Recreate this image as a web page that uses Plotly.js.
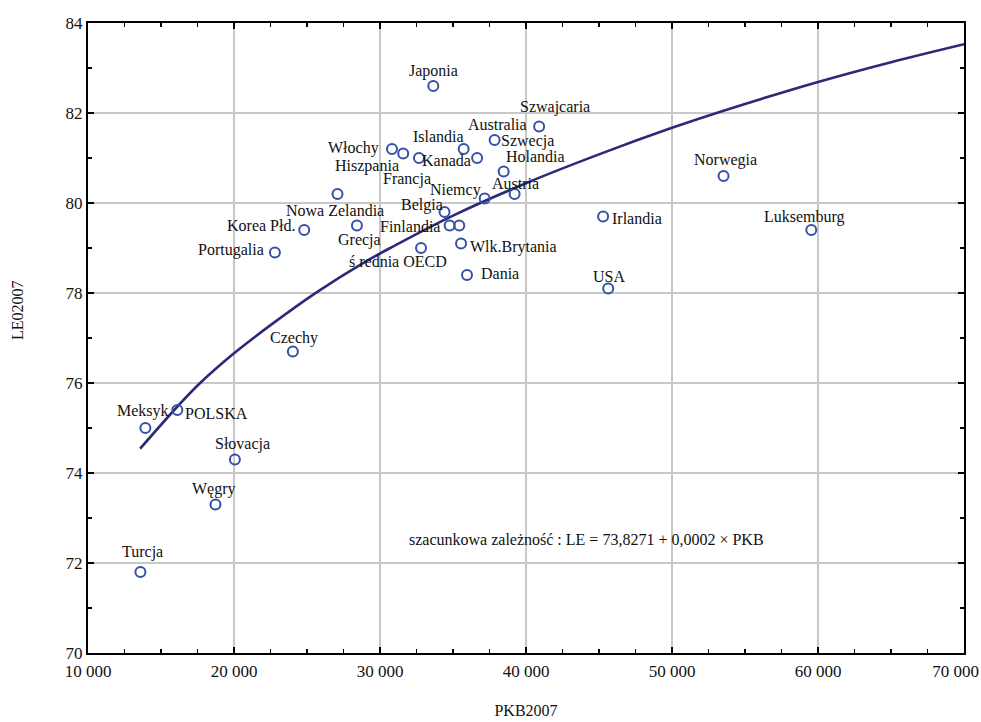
<!DOCTYPE html>
<html>
<head>
<meta charset="utf-8">
<script src="https://cdn.plot.ly/plotly-3.0.1.min.js"></script>
<style>html,body{margin:0;padding:0;background:#fff;}#chart{width:981px;height:722px;}</style>
</head>
<body>
<div id="chart"></div>
<script>
// ---- data ----
const countries = ["Japonia","Szwajcaria","Australia","Islandia","Szwecja","Kanada","Holandia","Austria","Niemcy","Belgia","Finlandia","Wlk.Brytania","Dania","ś rednia OECD","Włochy","Hiszpania","Francja","Nowa Zelandia","Grecja","Korea Płd.","Portugalia","Norwegia","Luksemburg","Irlandia","USA","Czechy","POLSKA","Meksyk","Słovacja","Węgry","Turcja"];
const pkb2007 = [33650,40900,37850,35730,36650,38470,39220,37170,34420,34770,35430,35550,35960,32810,30820,31590,32670,27090,28420,24810,22800,53530,59540,45280,45630,24030,16120,13930,20060,18730,13590];
const le2007 = [82.6,81.7,81.4,81.2,81.0,80.7,80.2,80.1,79.8,79.5,79.5,79.1,78.4,79.0,81.2,81.1,81.0,80.2,79.5,79.4,78.9,80.6,79.4,79.7,78.1,76.7,75.4,75.0,74.3,73.3,71.8];

// fitted curve, points
const fitX = [13570,16190,17680,19960,22480,25680,28870,30700,35000,40000,45000,50000,53530,60000,65000,70000];
const fitY = [74.54,75.50,76.00,76.65,77.28,78.02,78.67,79.00,79.72,80.44,81.08,81.67,82.05,82.69,83.13,83.53];

const xTicks = [10000,20000,30000,40000,50000,60000,70000];
const xTickText = ["10 000","20 000","30 000","40 000","50 000","60 000","70 000\u00a0\u00a0\u00a0\u00a0"];
const yTicks = [70,72,74,76,78,80,82,84];
const equation = "szacunkowa zależność : LE = 73,8271 + 0,0002 × PKB";
const xTitle = "PKB2007";
const yTitle = "LE02007";

// ---- label placement (pixel offsets from each point: [dx, dy]) ----
const labelOffsets = {
  "Japonia":[0,-15],"Szwajcaria":[16,-20],"Australia":[3,-16],"Islandia":[-25,-13],
  "Szwecja":[50,-17],"Kanada":[-57,-11],"Holandia":[21,-38],"Austria":[31,-15],
  "Niemcy":[11,-22],"Belgia":[-28,-21],"Finlandia":[-49,1],"Wlk.Brytania":[52,3],
  "Dania":[33,-2],"ś rednia OECD":[-23,13],"Włochy":[-38,-1],"Hiszpania":[-36,12],
  "Francja":[-12,21],"Nowa Zelandia":[-3,16],"Grecja":[3,14],"Korea Płd.":[-43,-5],
  "Portugalia":[-44,-3],"Norwegia":[2,-16],"Luksemburg":[-7,-13],"Irlandia":[34,2],
  "USA":[1,-12],"Czechy":[1,-14],"POLSKA":[39,3],"Meksyk":[-2,-17],
  "Słovacja":[8,-16],"Węgry":[-1,-16],"Turcja":[2,-20]
};

const serif = "'Liberation Serif', 'Times New Roman', serif";
const ink = "#111";

const annotations = countries.map((c,i)=>({
  x: pkb2007[i], y: le2007[i], xref:"x", yref:"y",
  text: c, showarrow:false, xanchor:"center", yanchor:"middle",
  xshift: labelOffsets[c][0], yshift: -labelOffsets[c][1],
  font:{family:serif, size:16, color:ink}
}));
annotations.push({
  x:0.5696, y:0.1797, xref:"paper", yref:"paper", text:equation, showarrow:false,
  xanchor:"center", yanchor:"middle", font:{family:serif, size:16, color:ink}
});
// y-axis title, placed where the reference draws it
annotations.push({
  x:-0.081, y:0.5444, xref:"paper", yref:"paper", text:yTitle, showarrow:false,
  textangle:-90, xanchor:"center", yanchor:"middle", font:{family:serif, size:16, color:ink}
});

const traces = [
  {x:fitX, y:fitY, type:"scatter", mode:"lines", line:{color:"#2c2a78", width:2.6, shape:"spline", smoothing:1}, hoverinfo:"skip"},
  {x:pkb2007, y:le2007, text:countries, type:"scatter", mode:"markers",
   marker:{symbol:"circle-open", size:10, color:"#3550a8", line:{width:2, color:"#3550a8"}}}
];

const axisCommon = {
  showline:true, linecolor:"#000", linewidth:2, mirror:"ticks",
  ticks:"inside", ticklen:6, tickwidth:1.5, tickcolor:"#000",
  showgrid:true, gridcolor:"#c8c8c8", gridwidth:1.5, zeroline:false,
  ticklabeloverflow:"allow",
  tickfont:{family:serif, size:17, color:ink}
};

const layout = {
  width:981, height:722,
  margin:{l:88, r:17, t:23, b:69},
  paper_bgcolor:"#fff", plot_bgcolor:"#fff",
  showlegend:false,
  separators:", ",
  xaxis:Object.assign({}, axisCommon, {
    range:[10000,70000], tickvals:xTicks, ticktext:xTickText, ticklabelstandoff:2,
    minor:{dtick:2500, ticks:"inside", ticklen:4, tickcolor:"#000", showgrid:false},
    title:{text:xTitle, font:{family:serif, size:16, color:ink}, standoff:24}
  }),
  yaxis:Object.assign({}, axisCommon, {
    range:[70,84], tickvals:yTicks,
    minor:{dtick:1, ticks:"inside", ticklen:4, tickcolor:"#000", showgrid:false}
  }),
  annotations:annotations
};

Plotly.newPlot("chart", traces, layout, {displayModeBar:false, staticPlot:true});
</script>
</body>
</html>
